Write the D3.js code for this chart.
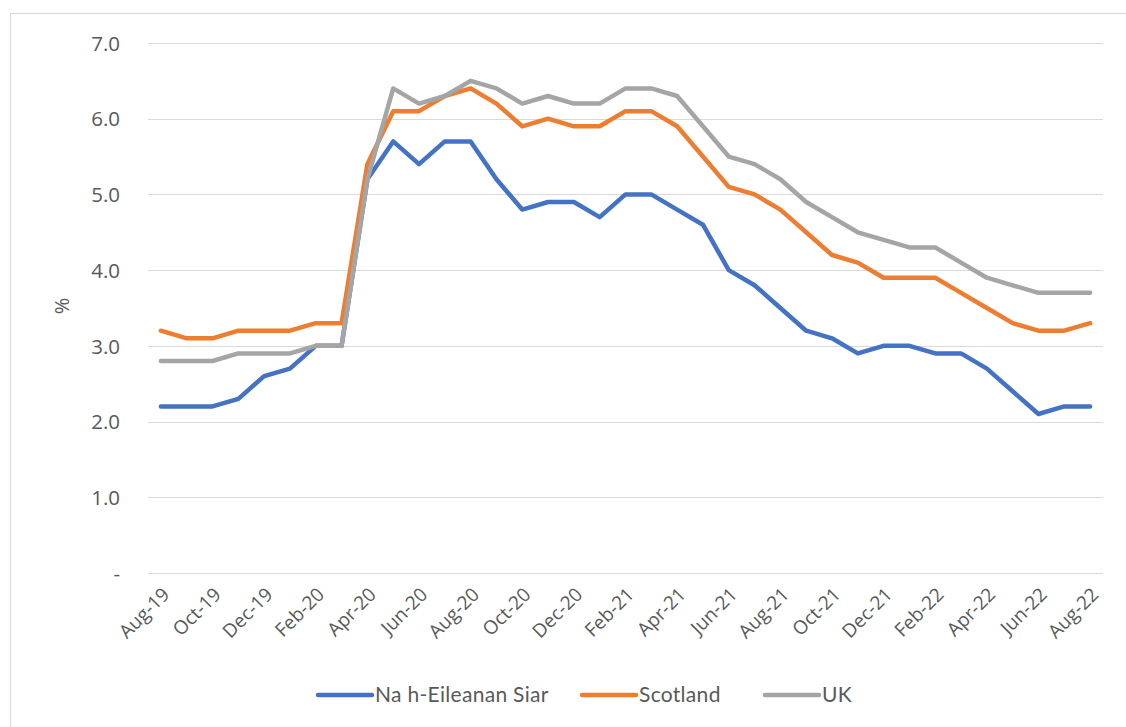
<!DOCTYPE html>
<html>
<head>
<meta charset="utf-8">
<script src="https://cdn.jsdelivr.net/npm/d3@7"></script>
<style>
  html, body { margin: 0; padding: 0; background: #fff; }
  svg { display: block; }
  text { fill: #595959; }
</style>
</head>
<body>
<svg id="chart" width="1126" height="727"></svg>
<script>
// Monthly categories, Aug-19 to Aug-22
const months = [
  "Aug-19","Sep-19","Oct-19","Nov-19","Dec-19","Jan-20","Feb-20","Mar-20",
  "Apr-20","May-20","Jun-20","Jul-20","Aug-20","Sep-20","Oct-20","Nov-20",
  "Dec-20","Jan-21","Feb-21","Mar-21","Apr-21","May-21","Jun-21","Jul-21",
  "Aug-21","Sep-21","Oct-21","Nov-21","Dec-21","Jan-22","Feb-22","Mar-22",
  "Apr-22","May-22","Jun-22","Jul-22","Aug-22"
];

// Rates (%)
const eileananSiar = [
  2.2, 2.2, 2.2, 2.3, 2.6, 2.7, 3.0, 3.0,
  5.2, 5.7, 5.4, 5.7, 5.7, 5.2, 4.8, 4.9,
  4.9, 4.7, 5.0, 5.0, 4.8, 4.6, 4.0, 3.8,
  3.5, 3.2, 3.1, 2.9, 3.0, 3.0, 2.9, 2.9,
  2.7, 2.4, 2.1, 2.2, 2.2
];
const scotland = [
  3.2, 3.1, 3.1, 3.2, 3.2, 3.2, 3.3, 3.3,
  5.4, 6.1, 6.1, 6.3, 6.4, 6.2, 5.9, 6.0,
  5.9, 5.9, 6.1, 6.1, 5.9, 5.5, 5.1, 5.0,
  4.8, 4.5, 4.2, 4.1, 3.9, 3.9, 3.9, 3.7,
  3.5, 3.3, 3.2, 3.2, 3.3
];
const uk = [
  2.8, 2.8, 2.8, 2.9, 2.9, 2.9, 3.0, 3.0,
  5.2, 6.4, 6.2, 6.3, 6.5, 6.4, 6.2, 6.3,
  6.2, 6.2, 6.4, 6.4, 6.3, 5.9, 5.5, 5.4,
  5.2, 4.9, 4.7, 4.5, 4.4, 4.3, 4.3, 4.1,
  3.9, 3.8, 3.7, 3.7, 3.7
];

const seriesNames = ["Na h-Eileanan Siar", "Scotland", "UK"];
const seriesColors = ["#4472C4", "#ED7D31", "#A5A5A5"];
const yTicks = [0, 1, 2, 3, 4, 5, 6, 7];
const yTickLabels = ["-", "1.0", "2.0", "3.0", "4.0", "5.0", "6.0", "7.0"];

const series = [eileananSiar, scotland, uk].map((values, i) => ({
  name: seriesNames[i], color: seriesColors[i], values
}));

const svg = d3.select("#chart");

// outer chart frame (left and top edges visible)
svg.append("rect")
  .attr("x", 10.5).attr("y", 13.5)
  .attr("width", 1130).attr("height", 730)
  .attr("fill", "none").attr("stroke", "#D9D9D9").attr("stroke-width", 1.2);

const x = d3.scaleBand().domain(months).range([148, 1103]).padding(0);
const y = d3.scaleLinear().domain([0, 7]).range([573, 43]);
const cx = m => x(m) + x.bandwidth() / 2;

// horizontal gridlines
svg.append("g")
  .selectAll("line").data(yTicks).join("line")
  .attr("x1", 148).attr("x2", 1103)
  .attr("y1", d => Math.round(y(d)) + 0.5).attr("y2", d => Math.round(y(d)) + 0.5)
  .attr("stroke", "#D9D9D9").attr("stroke-width", 1);

// y axis labels
const yAxis = d3.axisLeft(y).tickValues(yTicks)
  .tickFormat((d, i) => yTickLabels[i]).tickSize(0).tickPadding(0);
const gy = svg.append("g").attr("transform", "translate(120,0)").call(yAxis);
gy.select(".domain").remove();
gy.attr("font-family", "'Open Sans', sans-serif").attr("font-size", 20.5);
gy.selectAll("text")
  .attr("fill", "#595959").attr("dy", "0.35em");

// y axis title
svg.append("text")
  .attr("transform", "translate(69,306) rotate(-90)")
  .attr("text-anchor", "middle")
  .attr("font-family", "'Open Sans', sans-serif").attr("font-size", 20)
  .text("%");

// x axis labels (every second month), rotated
const xAxis = d3.axisBottom(x)
  .tickValues(months.filter((m, i) => i % 2 === 0))
  .tickSize(0).tickPadding(0);
const gx = svg.append("g").attr("transform", "translate(0,586)").call(xAxis);
gx.select(".domain").remove();
gx.attr("font-family", "'Open Sans', sans-serif").attr("font-size", 19);
gx.selectAll("text")
  .attr("fill", "#595959")
  .attr("text-anchor", "end")
  .attr("dy", "0.35em")
  .attr("transform", "translate(5,5) rotate(-45)");

// series lines
const line = d3.line()
  .x((d, i) => cx(months[i]))
  .y(d => y(d))
  .curve(d3.curveLinear);

svg.append("g")
  .selectAll("path").data(series).join("path")
  .attr("d", s => line(s.values))
  .attr("fill", "none")
  .attr("stroke", s => s.color)
  .attr("stroke-width", 4.5)
  .attr("stroke-linejoin", "round")
  .attr("stroke-linecap", "round");

// legend
const legendX = [318, 582, 765];
const lg = svg.append("g").selectAll("g").data(series).join("g")
  .attr("transform", (s, i) => `translate(${legendX[i]},695)`);
lg.append("line")
  .attr("x1", 0).attr("x2", 54).attr("y1", 0).attr("y2", 0)
  .attr("stroke", s => s.color).attr("stroke-width", 4.5)
  .attr("stroke-linecap", "round");
lg.append("text")
  .attr("x", 57).attr("dy", "0.35em")
  .attr("font-family", "Lato, sans-serif").attr("font-size", 21)
  .attr("letter-spacing", 0.3)
  .attr("fill", "#595959")
  .text(s => s.name);
</script>
</body>
</html>
